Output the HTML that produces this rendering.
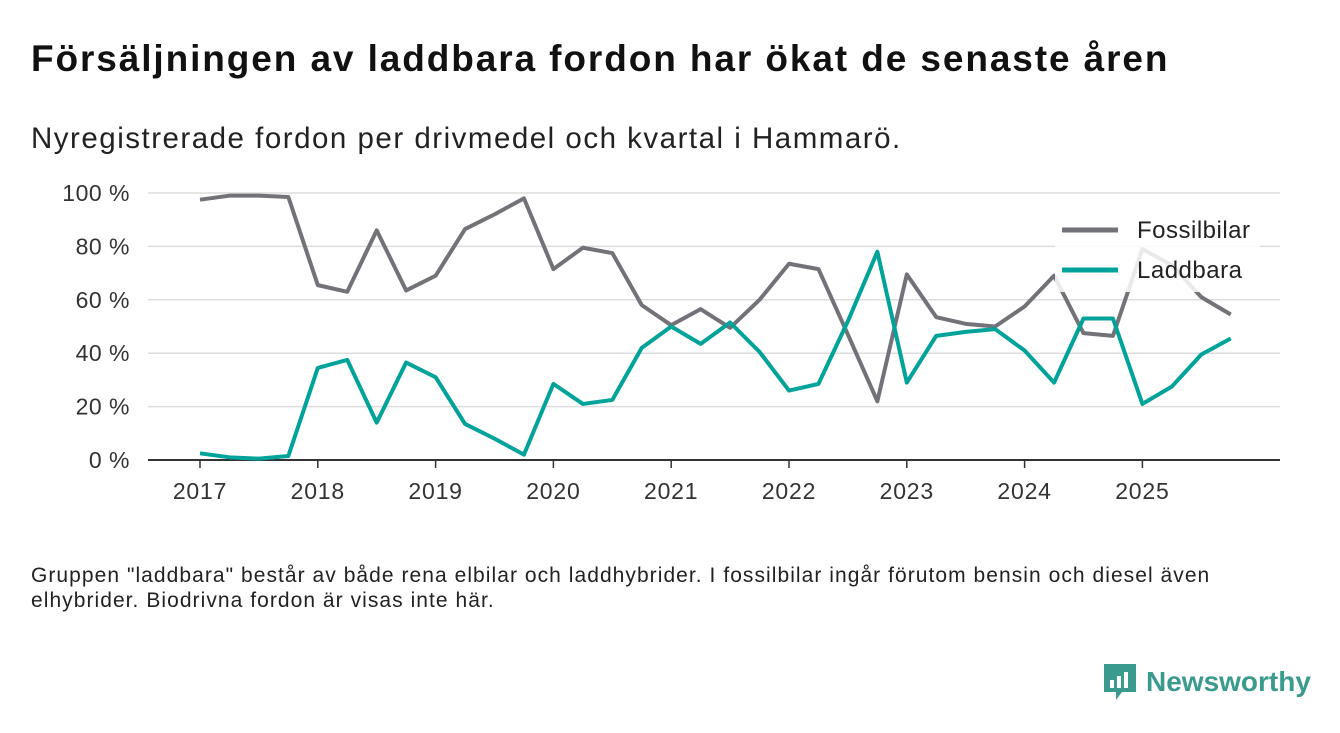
<!DOCTYPE html>
<html><head><meta charset="utf-8"><style>
body{margin:0;width:1340px;height:733px;background:#fff;font-family:"Liberation Sans","DejaVu Sans",sans-serif;overflow:hidden;position:relative;color:#111}
h1{position:absolute;left:31px;top:38px;margin:0;font-size:37px;font-weight:bold;letter-spacing:1.9px;white-space:nowrap}
.sub{position:absolute;left:31px;top:122px;font-size:29.5px;letter-spacing:1.5px;color:#222;white-space:nowrap}
.note{position:absolute;left:31px;top:563px;font-size:21px;letter-spacing:1.05px;line-height:25px;color:#222;width:1250px;white-space:nowrap}
.logo{position:absolute;left:1102px;top:662px;display:flex;align-items:center;gap:8px;color:#3a9a8e;font-weight:bold;font-size:28px}
</style></head><body>
<h1>Försäljningen av laddbara fordon har ökat de senaste åren</h1>
<div class="sub">Nyregistrerade fordon per drivmedel och kvartal i Hammarö.</div>
<svg id="chart" width="1340" height="733" style="position:absolute;left:0;top:0"></svg>
<div class="note">Gruppen "laddbara" består av både rena elbilar och laddhybrider. I fossilbilar ingår förutom bensin och diesel även<br>elhybrider. Biodrivna fordon är visas inte här.</div>
<div class="logo"><svg width="36" height="40" viewBox="0 0 36 40"><path d="M2 2h32v28H20l-6 8v-8H2z" fill="#3a9a8e"/><rect x="8" y="18" width="4" height="8" fill="#fff"/><rect x="15" y="14" width="4" height="12" fill="#fff"/><rect x="22" y="10" width="4" height="16" fill="#fff"/></svg><span>Newsworthy</span></div>
<script>
const years=["2017","2018","2019","2020","2021","2022","2023","2024","2025"];
const yTicks=[0,20,40,60,80,100];
const fossil=[97.5,99,99,98.5,65.5,63,86,63.5,69,86.5,92,98,71.5,79.5,77.5,58,50.5,56.5,49.5,60,73.5,71.5,47,22,69.5,53.5,51,50,57.5,69,47.5,46.5,79,73,61,54.5];
const laddbara=[2.5,1,0.5,1.5,34.5,37.5,14,36.5,31,13.5,8,2,28.5,21,22.5,42,50,43.5,51.5,40.5,26,28.5,52,78,29,46.5,48,49,41,29,53,53,21,27.5,39.5,45.5];
const svg=document.getElementById('chart');const NS='http://www.w3.org/2000/svg';
const x=i=>200+i*117.8/4;const y=v=>460-v*2.67;
function mk(t,a){const e=document.createElementNS(NS,t);for(const k in a)e.setAttribute(k,a[k]);svg.appendChild(e);return e;}
yTicks.forEach(v=>{const l=mk('line',{x1:148,x2:1280,y1:y(v),y2:y(v),stroke:v?'#ddd':'#333','stroke-width':v?1.5:2});


const t=mk('text',{x:130,y:y(v)+8,'text-anchor':'end','font-size':23,'letter-spacing':0.5,fill:'#333'});t.textContent=v+' %';

});
years.forEach((yr,k)=>{const xx=x(k*4);mk('line',{x1:xx,x2:xx,y1:460,y2:468,stroke:'#333','stroke-width':1.5});
const t=mk('text',{x:xx,y:499,'text-anchor':'middle','font-size':23,'letter-spacing':0.8,fill:'#333'});t.textContent=yr;

});
function line(d,c,n){const p=mk('polyline',{points:d.map((v,i)=>x(i)+','+y(v)).join(' '),fill:'none',stroke:c,'stroke-width':4,'stroke-linejoin':'round'});

}
line(fossil,'#737279','line-fossilbilar');
line(laddbara,'#00a39a','line-laddbara');
const bg=mk('rect',{x:1055,y:210,width:205,height:82,fill:'#fff',opacity:0.85});


[['Fossilbilar','#737279',230],['Laddbara','#00a39a',270]].forEach(([n,c,yy])=>{
const l=mk('line',{x1:1062,x2:1118,y1:yy,y2:yy,stroke:c,'stroke-width':5});


const t=mk('text',{x:1137,y:yy+8,'font-size':24,'letter-spacing':0.5,fill:'#222'});t.textContent=n;

});
</script>
</body></html>
